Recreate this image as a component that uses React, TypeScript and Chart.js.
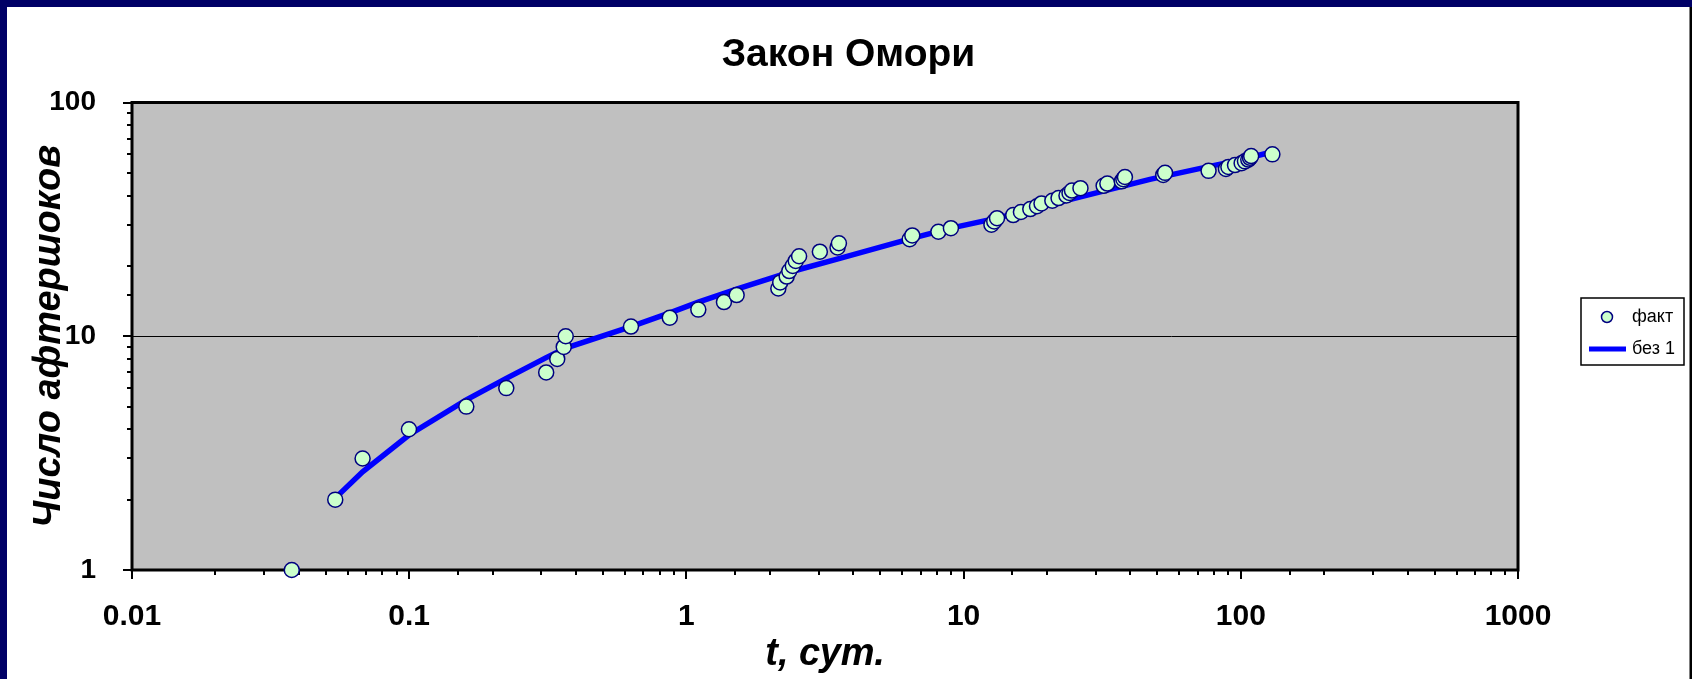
import React, { useEffect, useRef } from 'react';
import { Chart, registerables } from 'chart.js';

Chart.register(...registerables);

// ---- text ----
const chartTitle = 'Закон Омори';
const xAxisTitle = 't, сут.';
const yAxisTitle = 'Число афтершоков';
const legendLabels = ['факт', 'без 1'];
const xTickLabels = ['0.01', '0.1', '1', '10', '100', '1000'];
const yTickLabels = ['1', '10', '100'];

// ---- data: observed cumulative aftershock counts ("факт") ----
const factT = [
  0.0377, 0.0541, 0.0679, 0.0998, 0.1607, 0.224, 0.312, 0.342, 0.361, 0.367,
  0.631, 0.871, 1.104, 1.366, 1.518, 2.146, 2.18, 2.3, 2.35, 2.42,
  2.48, 2.55, 3.03, 3.51, 3.55, 6.39, 6.53, 8.11, 9.0, 12.6,
  12.9, 13.2, 15.1, 16.1, 17.4, 18.4, 19.1, 20.9, 22.0, 23.5,
  24.1, 24.6, 26.4, 32.0, 33.0, 37.2, 37.7, 38.2, 52.5, 53.3,
  76.5, 88.4, 90.2, 95.3, 100.7, 103.5, 106.4, 107.9, 109.0, 130.0,
];
const factN = [
  1, 2, 3, 4, 5, 6, 7, 8, 9, 10,
  11, 12, 13, 14, 15, 16, 17, 18, 19, 20,
  21, 22, 23, 24, 25, 26, 27, 28, 29, 30,
  31, 32, 33, 34, 35, 36, 37, 38, 39, 40,
  41, 42, 43, 44, 45, 46, 47, 48, 49, 50,
  51, 52, 53, 54, 55, 56, 57, 58, 59, 60,
];

// ---- data: fitted curve ("без 1") ----
const fitT = [
  0.0541, 0.0679, 0.0998, 0.1607, 0.224, 0.312, 0.367, 0.631, 0.871, 1.104,
  1.518, 2.2, 2.55, 3.55, 6.5, 9.0, 13.2, 26.4, 47.0, 76.5, 100.0, 125.0,
];
const fitN = [
  2.03, 2.63, 3.78, 5.34, 6.6, 8.1, 8.9, 11.0, 12.6, 14.0,
  15.9, 18.3, 19.3, 21.5, 26.2, 29.0, 32.0, 39.5, 46.9, 53.2, 56.8, 60.8,
];

const FONT = '"Liberation Sans", Arial, sans-serif';
const W = 1692;
const H = 679;

function decadeIndex(v: number): number | null {
  const l = Math.log10(v);
  const r = Math.round(l);
  return Math.abs(l - r) < 1e-6 ? r : null;
}

const plotPlugin = {
  id: 'plotDecor',
  beforeDraw(chart: any) {
    const { ctx, width, height, chartArea: a } = chart;
    ctx.save();
    ctx.fillStyle = '#ffffff';
    ctx.fillRect(0, 0, width, height);
    ctx.fillStyle = '#000066';
    ctx.fillRect(0, 0, width, 7);
    ctx.fillRect(0, 0, 7, height);
    ctx.fillStyle = '#000000';
    ctx.fillRect(width - 2.5, 7, 2.5, height - 7);
    ctx.fillStyle = '#C0C0C0';
    ctx.fillRect(a.left, a.top, a.right - a.left, a.bottom - a.top);
    ctx.restore();
  },
  beforeDatasetsDraw(chart: any) {
    const { ctx, chartArea: a, scales } = chart;
    ctx.save();
    ctx.strokeStyle = '#000000';
    ctx.lineWidth = 2;
    ctx.beginPath();
    for (const t of scales.x.ticks) {
      const px = Math.round(scales.x.getPixelForValue(t.value));
      const major = decadeIndex(t.value) !== null;
      ctx.moveTo(px, a.bottom);
      ctx.lineTo(px, a.bottom + (major ? 9 : 5));
    }
    for (const t of scales.y.ticks) {
      const py = Math.round(scales.y.getPixelForValue(t.value));
      const major = decadeIndex(t.value) !== null;
      ctx.moveTo(a.left, py);
      ctx.lineTo(a.left - (major ? 9 : 5), py);
    }
    ctx.stroke();
    ctx.lineWidth = 3;
    ctx.strokeRect(a.left, a.top, a.right - a.left, a.bottom - a.top);
    ctx.restore();
  },
  afterDraw(chart: any) {
    const { ctx } = chart;
    const lx = 1581, ly = 298, lw = 103, lh = 67;
    ctx.save();
    ctx.fillStyle = '#ffffff';
    ctx.fillRect(lx, ly, lw, lh);
    ctx.strokeStyle = '#000000';
    ctx.lineWidth = 1.5;
    ctx.strokeRect(lx, ly, lw, lh);
    ctx.beginPath();
    ctx.arc(1607, 317, 5.5, 0, Math.PI * 2);
    ctx.fillStyle = '#CCFFCC';
    ctx.fill();
    ctx.strokeStyle = '#000080';
    ctx.lineWidth = 1.5;
    ctx.stroke();
    ctx.beginPath();
    ctx.moveTo(1589, 349);
    ctx.lineTo(1626, 349);
    ctx.strokeStyle = '#0000FF';
    ctx.lineWidth = 5;
    ctx.stroke();
    ctx.fillStyle = '#000000';
    ctx.font = `18px ${FONT}`;
    ctx.textBaseline = 'middle';
    ctx.textAlign = 'left';
    ctx.fillText(legendLabels[0], 1632, 317);
    ctx.fillText(legendLabels[1], 1632, 349);
    ctx.restore();
  },
};

export default function App() {
  const ref = useRef<HTMLCanvasElement>(null);

  useEffect(() => {
    const canvas = ref.current;
    if (!canvas) return;
    const chart = new Chart(canvas, {
      type: 'scatter',
      data: {
        datasets: [
          {
            label: legendLabels[0],
            data: factT.map((t, i) => ({ x: t, y: factN[i] })),
            showLine: false,
            pointRadius: 7.5,
            pointBorderWidth: 1.5,
            pointBackgroundColor: '#CCFFCC',
            pointBorderColor: '#000080',
            clip: false as any,
          },
          {
            label: legendLabels[1],
            data: fitT.map((t, i) => ({ x: t, y: fitN[i] })),
            showLine: true,
            pointRadius: 0,
            borderColor: '#0000FF',
            borderWidth: 5.5,
            tension: 0,
            fill: false,
          },
        ],
      },
      options: {
        responsive: false,
        animation: false,
        events: [],
        devicePixelRatio: 1,
        layout: { padding: { left: 7, top: 7, right: 2, bottom: 0 } },
        plugins: {
          legend: { display: false },
          tooltip: { enabled: false },
          title: {
            display: true,
            text: chartTitle,
            color: '#000000',
            font: { family: FONT, size: 39, weight: 'bold' },
            padding: { top: 24.6, bottom: 24.1 },
          },
        },
        scales: {
          x: {
            type: 'logarithmic',
            position: 'bottom',
            min: 0.01,
            max: 1000,
            border: { display: false },
            grid: { display: false, drawTicks: false },
            ticks: {
              autoSkip: false,
              maxRotation: 0,
              minRotation: 0,
              padding: 29,
              color: '#000000',
              font: { family: FONT, size: 30, weight: 'bold' },
              callback: (v: any) => {
                const r = decadeIndex(Number(v));
                return r === null ? '' : xTickLabels[r + 2] ?? '';
              },
            },
            title: {
              display: true,
              text: xAxisTitle,
              color: '#000000',
              font: { family: FONT, size: 38, weight: 'bold', style: 'italic' },
              padding: { top: 0, bottom: 2 },
            },
            afterFit: (s: any) => {
              s.height = 109;
            },
          },
          y: {
            type: 'logarithmic',
            position: 'left',
            min: 1,
            max: 100,
            border: { display: false },
            grid: {
              display: true,
              drawTicks: false,
              lineWidth: 1,
              color: (c: any) =>
                c.tick && Math.abs(c.tick.value - 10) < 1e-6 ? '#000000' : 'rgba(0,0,0,0)',
            },
            ticks: {
              autoSkip: false,
              padding: 36,
              color: '#000000',
              font: { family: FONT, size: 28, weight: 'bold' },
              callback: (v: any) => {
                const r = decadeIndex(Number(v));
                return r === null ? '' : yTickLabels[r] ?? '';
              },
            },
            title: {
              display: true,
              text: yAxisTitle,
              color: '#000000',
              font: { family: FONT, size: 38, weight: 'bold', style: 'italic' },
              padding: { top: 20, bottom: 0 },
            },
            afterFit: (s: any) => {
              s.width = 125;
            },
          },
          yR: {
            type: 'linear',
            position: 'right',
            display: true,
            border: { display: false },
            grid: { display: false, drawTicks: false },
            ticks: { display: false },
            afterFit: (s: any) => {
              s.width = 172;
            },
          },
        },
      } as any,
      plugins: [plotPlugin],
    });
    return () => chart.destroy();
  }, []);

  return (
    <div style={{ position: 'fixed', left: 0, top: 0, width: W, height: H }}>
      <canvas ref={ref} width={W} height={H} style={{ display: 'block', width: W, height: H }} />
    </div>
  );
}
